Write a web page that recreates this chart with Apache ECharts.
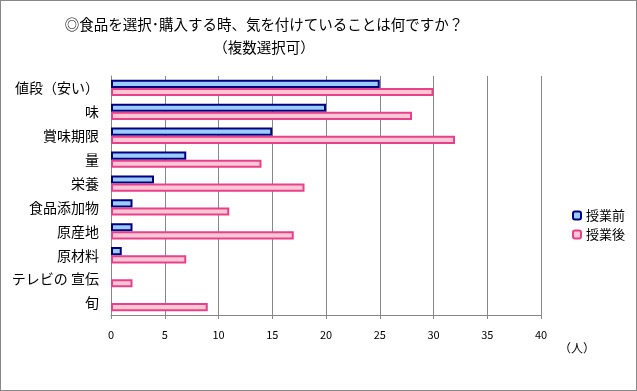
<!DOCTYPE html>
<html><head><meta charset="utf-8">
<script src="https://cdn.jsdelivr.net/npm/echarts@6/dist/echarts.min.js"></script>
<style>html,body{margin:0;padding:0;background:#fff}#c{width:637px;height:391px;box-sizing:border-box;border:1px solid #888}</style>
</head><body><div id="c"></div>
<script>
const categories = ['値段（安い）','味','賞味期限','量','栄養','食品添加物','原産地','原材料','テレビの 宣伝','旬'];
const before = [25,20,15,7,4,2,2,1,0,0];
const after = [30,28,32,14,18,11,17,7,2,9];
const xTicks = [0,5,10,15,20,25,30,35,40];
const font = '"Noto Sans CJK JP", sans-serif';
const chart = echarts.init(document.getElementById('c'));
chart.setOption({
  animation:false,
  title:{text:'◎食品を選択･購入する時、気を付けていることは何ですか？\n（複数選択可）',left:258,textAlign:'center',top:7,
    textStyle:{fontFamily:font,fontSize:14.5,fontWeight:'normal',color:'#000',lineHeight:23}},
  legend:{orient:'vertical',left:566,top:203,itemWidth:8,itemHeight:8,itemGap:6,
    textStyle:{fontFamily:font,fontSize:13,color:'#000'},
    data:['授業前','授業後']},
  grid:{left:110,right:95,top:75,bottom:75},
  xAxis:{type:'value',min:0,max:40,interval:5,
    name:'（人）',nameLocation:'end',nameGap:18,nameTextStyle:{fontFamily:font,fontSize:12,color:'#000',align:'left',verticalAlign:'top',padding:[27,0,0,0]},
    axisLine:{show:true,lineStyle:{color:'#888'}},
    axisTick:{show:true,length:4,lineStyle:{color:'#888'}},
    axisLabel:{fontFamily:font,fontSize:11,color:'#000',margin:14,formatter:v=>xTicks.includes(v)?String(v):''},
    splitLine:{show:true,lineStyle:{color:'#888'}}},
  yAxis:{type:'category',data:categories,inverse:true,
    axisLine:{show:true,lineStyle:{color:'#888'}},
    axisTick:{show:false},
    axisLabel:{fontFamily:font,fontSize:14,color:'#000',margin:12}},
  series:[
    {name:'授業前',type:'bar',data:before.map(v=>v===0?null:v),barGap:'0%',barCategoryGap:'32%',
      itemStyle:{color:'#99ccff',borderColor:'#000080',borderWidth:2}},
    {name:'授業後',type:'bar',data:after.map(v=>v===0?null:v),
      itemStyle:{color:'#ffc6d4',borderColor:'#e8408a',borderWidth:2}}
  ]
});
</script></body></html>
